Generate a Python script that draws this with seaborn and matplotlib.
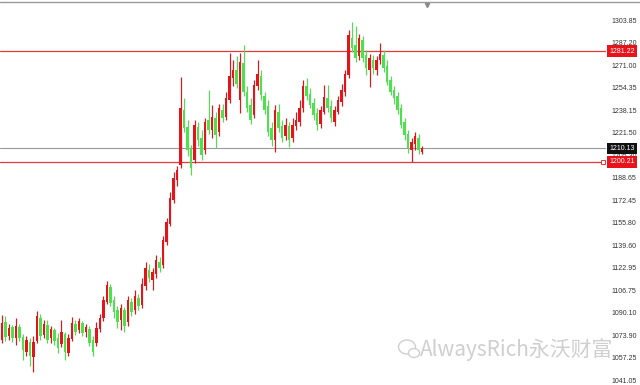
import numpy as np
import pandas as pd
import seaborn as sns
import matplotlib
matplotlib.use("Agg")
import matplotlib.pyplot as plt
import matplotlib.transforms as mtransforms
from matplotlib.patches import Ellipse
from matplotlib.lines import Line2D

# ---------------- data (XAU/USD style candles) ----------------
opens = [1070.3, 1083.4, 1073.2, 1079.7, 1071.7, 1079.7, 1072.4, 1061.5, 1068.8, 1057.8,
         1069.5, 1086.3, 1073.9, 1081.2, 1071.7, 1077.6, 1071.7, 1067.3, 1074.6, 1060.8,
         1071.0, 1081.9, 1077.6, 1082.7, 1076.1, 1078.3, 1070.3, 1068.1, 1078.3, 1086.3,
         1098.0, 1108.9, 1099.5, 1092.2, 1084.9, 1092.2, 1083.4, 1098.0, 1092.2, 1100.9,
         1095.8, 1109.7, 1121.4, 1114.1, 1118.4, 1127.2, 1125.0, 1141.8, 1154.9, 1172.5,
         1187.1, 1198.0, 1238.2, 1225.7, 1210.4, 1201.7, 1225.7, 1217.7, 1209.0, 1230.9,
         1223.6, 1232.3, 1222.1, 1238.2, 1233.0, 1245.5, 1261.5, 1267.4, 1245.5, 1272.5,
         1251.3, 1241.8, 1234.5, 1255.7, 1263.0, 1248.4, 1241.1, 1225.0, 1216.3, 1236.7,
         1226.5, 1219.2, 1226.5, 1217.7, 1226.5, 1229.4, 1239.6, 1255.7, 1249.8, 1243.3,
         1236.0, 1227.9, 1236.7, 1246.9, 1241.1, 1229.4, 1236.7, 1244.0, 1251.3, 1263.7,
         1290.7, 1285.6, 1277.6, 1289.3, 1278.3, 1267.4, 1274.7, 1267.4, 1274.7, 1278.3,
         1270.3, 1260.1, 1252.8, 1248.4, 1239.6, 1229.4, 1220.6, 1209.0, 1213.3, 1217.7,
         1207.5]
highs = [1088.5, 1087.8, 1081.9, 1081.2, 1086.3, 1081.9, 1074.6, 1073.2, 1071.7, 1073.2,
         1091.4, 1089.2, 1084.9, 1084.9, 1080.5, 1079.0, 1075.4, 1084.9, 1076.1, 1074.6,
         1087.0, 1084.9, 1086.3, 1084.1, 1081.9, 1080.5, 1073.2, 1083.4, 1089.2, 1102.4,
         1113.3, 1111.1, 1102.4, 1095.1, 1096.5, 1094.3, 1102.4, 1100.9, 1106.8, 1103.8,
         1115.5, 1127.2, 1125.7, 1122.8, 1132.3, 1130.8, 1146.2, 1159.3, 1178.3, 1192.9,
         1197.3, 1262.2, 1246.9, 1230.9, 1212.6, 1230.9, 1229.4, 1223.6, 1232.3, 1252.8,
         1241.8, 1236.7, 1242.5, 1242.5, 1251.3, 1279.8, 1274.7, 1277.6, 1279.8, 1285.6,
         1255.7, 1246.9, 1260.1, 1274.7, 1267.4, 1251.3, 1245.5, 1229.4, 1241.8, 1242.5,
         1230.9, 1232.3, 1229.4, 1232.3, 1236.7, 1245.5, 1260.1, 1261.5, 1254.2, 1246.9,
         1239.6, 1241.1, 1256.4, 1256.4, 1245.5, 1241.1, 1248.4, 1257.1, 1267.4, 1296.6,
         1302.4, 1299.5, 1293.6, 1292.2, 1282.0, 1279.0, 1278.3, 1277.6, 1287.1, 1282.0,
         1274.7, 1263.0, 1255.7, 1251.3, 1242.5, 1232.3, 1223.6, 1217.7, 1222.1, 1220.6,
         1211.9]
lows = [1068.1, 1069.5, 1070.3, 1068.8, 1066.6, 1069.5, 1055.7, 1058.6, 1051.3, 1046.9,
        1068.1, 1070.3, 1071.7, 1068.1, 1068.1, 1066.6, 1060.8, 1065.1, 1055.7, 1058.6,
        1069.5, 1073.9, 1075.4, 1073.2, 1072.4, 1065.9, 1058.6, 1065.9, 1076.1, 1084.1,
        1096.5, 1095.1, 1086.3, 1079.0, 1077.6, 1076.1, 1080.5, 1087.8, 1089.2, 1092.2,
        1093.6, 1106.8, 1112.6, 1106.8, 1115.5, 1119.9, 1122.8, 1139.6, 1153.5, 1170.3,
        1182.7, 1195.8, 1222.1, 1204.6, 1190.7, 1199.5, 1211.9, 1201.7, 1206.0, 1220.6,
        1217.7, 1210.4, 1219.2, 1229.4, 1230.9, 1243.3, 1255.7, 1254.2, 1236.0, 1248.4,
        1236.7, 1227.9, 1232.3, 1252.8, 1245.5, 1235.2, 1219.2, 1211.9, 1207.5, 1222.1,
        1214.8, 1216.3, 1211.1, 1214.8, 1223.6, 1226.5, 1236.7, 1245.5, 1239.6, 1230.9,
        1223.6, 1225.0, 1235.2, 1236.7, 1229.4, 1226.5, 1235.2, 1241.1, 1248.4, 1261.5,
        1280.5, 1273.2, 1274.7, 1273.2, 1263.7, 1254.9, 1264.4, 1263.7, 1271.7, 1265.9,
        1256.4, 1249.1, 1242.5, 1235.2, 1225.0, 1216.3, 1206.8, 1200.2, 1209.0, 1206.0,
        1206.0]
closes = [1082.7, 1072.4, 1079.0, 1071.7, 1080.5, 1071.7, 1063.0, 1070.3, 1058.6, 1068.8,
          1087.8, 1073.2, 1081.9, 1070.3, 1078.3, 1069.5, 1064.4, 1076.1, 1061.5, 1071.7,
          1082.7, 1076.1, 1084.1, 1075.4, 1079.7, 1068.1, 1061.5, 1079.0, 1086.3, 1099.5,
          1110.4, 1097.3, 1090.7, 1083.4, 1093.6, 1080.5, 1099.5, 1090.7, 1102.4, 1095.1,
          1111.1, 1122.8, 1115.5, 1119.9, 1128.7, 1122.8, 1143.3, 1156.4, 1173.9, 1188.5,
          1194.4, 1239.6, 1225.0, 1209.0, 1195.8, 1227.2, 1216.3, 1205.3, 1229.4, 1223.6,
          1233.0, 1219.9, 1239.6, 1232.3, 1246.9, 1263.0, 1267.4, 1257.1, 1273.2, 1251.3,
          1239.6, 1230.9, 1256.4, 1264.4, 1249.1, 1238.2, 1222.1, 1216.3, 1238.2, 1225.0,
          1217.7, 1227.2, 1216.3, 1227.2, 1230.9, 1239.6, 1255.7, 1248.4, 1241.8, 1234.5,
          1227.2, 1238.2, 1247.6, 1239.6, 1232.3, 1238.2, 1245.5, 1252.8, 1264.4, 1292.9,
          1283.4, 1276.1, 1290.7, 1276.1, 1268.8, 1276.1, 1268.8, 1274.7, 1279.0, 1268.8,
          1258.6, 1251.3, 1246.9, 1238.2, 1227.2, 1219.9, 1210.4, 1214.8, 1219.2, 1209.0,
          1210.13]

tick_values = [1303.85, 1287.20, 1271.00, 1254.35, 1238.15, 1221.50, 1205.30, 1188.65,
               1172.45, 1155.80, 1139.60, 1122.95, 1106.75, 1090.10, 1073.90, 1057.25, 1041.05]
tick_labels = ["1303.85", "1287.20", "1271.00", "1254.35", "1238.15", "1221.50", "1205.30",
               "1188.65", "1172.45", "1155.80", "1139.60", "1122.95", "1106.75", "1090.10",
               "1073.90", "1057.25", "1041.05"]

resistance = 1281.22
bid_price = 1210.13
support = 1200.21
watermark = "AlwaysRich永沃财富"

RED = "#e5141b"
GREEN = "#4fe04f"

# ---------------- figure ----------------
sns.set_theme(style="white")
plt.rcParams["font.family"] = ["Liberation Sans", "Noto Sans CJK SC", "DejaVu Sans"]

df = pd.DataFrame({"open": opens, "high": highs, "low": lows, "close": closes})
df["idx"] = np.arange(len(df))
df["up"] = df["close"] >= df["open"]
df["color"] = np.where(df["up"], RED, GREEN)
df["bottom"] = df[["open", "close"]].min(axis=1)
df["height"] = (df["close"] - df["open"]).abs().clip(lower=0.8)

fig = plt.figure(figsize=(6.4, 3.85), dpi=100)
ax = fig.add_axes([0, 0, 606 / 640, 383 / 385])

ax.vlines(df["idx"], df["low"], df["high"], colors=df["color"], linewidth=0.85, zorder=2)
ax.bar(df["idx"], df["height"], bottom=df["bottom"], width=0.82,
       color=df["color"], linewidth=0, zorder=3)

ax.axhline(resistance, color="#e23a3a", linewidth=0.9, zorder=1)
ax.axhline(bid_price, color="#9a9a9a", linewidth=0.8, zorder=1)
ax.axhline(support, color="#e23a3a", linewidth=0.9, zorder=1)

ax.set_xlim(-0.571, 172.57)
ax.set_ylim(1037.4, 1317.0)
ax.set_xticks([])
ax.yaxis.tick_right()
ax.set_yticks(tick_values)
ax.set_yticklabels(tick_labels, fontsize=5, color="#333333")
ax.tick_params(axis="y", length=0, pad=3.6)
for s in ax.spines.values():
    s.set_visible(False)

trans = mtransforms.blended_transform_factory(ax.transAxes, ax.transData)
for val, fc in [(resistance, "#e8131b"), (bid_price, "#111111"), (support, "#e8131b")]:
    ax.text(1.0056, val, f"{val:.2f}", transform=trans, ha="left", va="center",
            fontsize=5, color="white", zorder=10, clip_on=False,
            bbox=dict(boxstyle="square,pad=0.3", fc=fc, ec="none"))
ax.plot([0.995], [support], transform=trans, marker="s", markersize=3,
        mfc="white", mec="#e23a3a", mew=0.7, clip_on=False, zorder=9)

# top frame line and chart-shift triangle
fig.add_artist(Line2D([0, 1], [1 - 1.5 / 385] * 2, color="#9a9a9a", linewidth=1,
                      transform=fig.transFigure))
fig.add_artist(Line2D([427 / 640], [1 - 5 / 385], marker="v", markersize=3,
                      color="#8a8a8a", linestyle="none", transform=fig.transFigure))

# watermark
wm_color = "#cfcfcf"
fig.add_artist(Ellipse((407 / 640, 1 - 347 / 385), 17 / 640, 14 / 385, fc="white",
                       ec=wm_color, lw=1, transform=fig.transFigure))
fig.add_artist(Ellipse((414 / 640, 1 - 353 / 385), 11 / 640, 9 / 385, fc="white",
                       ec=wm_color, lw=1, transform=fig.transFigure))
fig.text(420 / 640, 1 - 350 / 385, watermark, fontsize=15, color=wm_color,
         ha="left", va="center", family=["Noto Sans CJK SC", "DejaVu Sans"],
         fontweight="light")

fig.savefig("out.png", dpi=100)
